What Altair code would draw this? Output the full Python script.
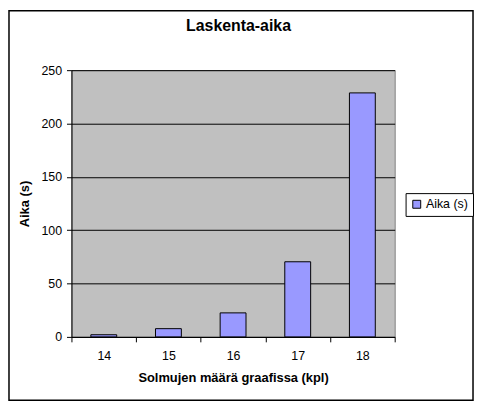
import altair as alt
import pandas as pd

solmut = ["14", "15", "16", "17", "18"]
aika = [2, 7.7, 22.5, 70.4, 228.7]
sarja = ["Aika (s)"] * 5
y_ticks = [0, 50, 100, 150, 200, 250]
otsikko = ["Laskenta-aika"]

df = pd.DataFrame({"Solmut": solmut, "Aika": aika, "Sarja": sarja})
FONT = "Liberation Sans"

border = alt.Chart(pd.DataFrame({"a": [0]})).mark_rect(
    fillOpacity=0, stroke="black", strokeWidth=1.5
).encode(
    x=alt.value(-63), x2=alt.value(405), y=alt.value(-60), y2=alt.value(333)
)

title = alt.Chart(pd.DataFrame({"t": otsikko})).mark_text(
    font=FONT, fontSize=16, fontWeight="bold", color="black",
    align="center", baseline="alphabetic"
).encode(
    text="t:N", x=alt.value(168.5), y=alt.value(-39)
)

bars = alt.Chart(df).mark_bar(
    stroke="black", strokeWidth=1, fill="#9999FF", width=alt.RelativeBandSize(0.4)
).encode(
    x=alt.X(
        "Solmut:O",
        title="Solmujen määrä graafissa (kpl)",
        scale=alt.Scale(paddingInner=0, paddingOuter=0),
        axis=alt.Axis(
            labelAngle=0, tickBand="extent", grid=False, domainColor="black",
            tickColor="black", tickSize=5, labelPadding=8, labelFontSize=12.5,
            labelFont=FONT, labelColor="black", titleFont=FONT, titleFontSize=13,
            titleFontWeight="bold", titleColor="black", titlePadding=10,
        ),
    ),
    y=alt.Y(
        "Aika:Q",
        title="Aika (s)",
        scale=alt.Scale(domain=[0, 250], nice=False),
        axis=alt.Axis(
            values=y_ticks, grid=True, gridColor="black", gridOpacity=1,
            domainColor="black", tickColor="black", tickSize=5, labelPadding=5,
            labelFontSize=12.5, labelFont=FONT, labelColor="black",
            titleFont=FONT, titleFontSize=13, titleFontWeight="bold",
            titleColor="black", titlePadding=9,
        ),
    ),
    color=alt.Color(
        "Sarja:N",
        scale=alt.Scale(range=["#9999FF"]),
        legend=alt.Legend(
            title=None, orient="none", legendX=337, legendY=124,
            strokeColor="black", fillColor="white", padding=5,
            symbolType="square", symbolSize=64, symbolStrokeColor="black",
            symbolStrokeWidth=1, labelFontSize=12.5, labelFont=FONT,
            labelColor="black", labelOffset=3,
        ),
    ),
)

chart = alt.layer(border, title, bars).properties(
    width=326,
    height=269,
    autosize=alt.AutoSizeParams(type="none"),
    padding={"left": 64, "top": 61, "right": 81, "bottom": 67},
).configure(
    background="white",
    view=alt.ViewConfig(fill="#C0C0C0", stroke="#808080"),
)

chart.save("out.html", embed_options={"renderer": "svg", "actions": False})
